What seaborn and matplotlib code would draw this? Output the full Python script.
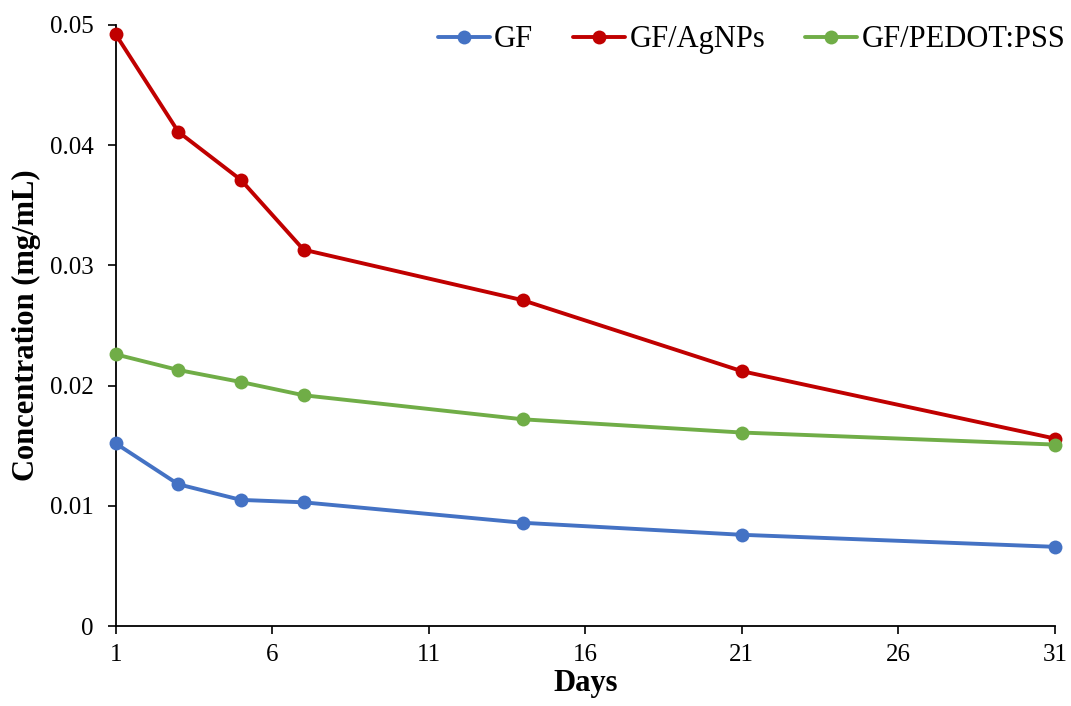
import pandas as pd
import matplotlib
matplotlib.use("Agg")
import matplotlib.pyplot as plt
import seaborn as sns

days = [1, 3, 5, 7, 14, 21, 31]
gf = [0.0152, 0.0118, 0.0105, 0.0103, 0.0086, 0.0076, 0.0066]
gf_agnps = [0.0492, 0.0411, 0.0371, 0.0313, 0.0271, 0.0212, 0.0156]
gf_pedot = [0.0226, 0.0213, 0.0203, 0.0192, 0.0172, 0.0161, 0.0151]
series_names = ["GF", "GF/AgNPs", "GF/PEDOT:PSS"]
x_ticks = [1, 6, 11, 16, 21, 26, 31]
y_ticks = [0, 0.01, 0.02, 0.03, 0.04, 0.05]
y_tick_labels = ["0", "0.01", "0.02", "0.03", "0.04", "0.05"]

df = pd.DataFrame({
    "Days": days * 3,
    "Concentration": gf + gf_agnps + gf_pedot,
    "Sample": [n for n in series_names for _ in days],
})

sns.set_theme(style="white")
plt.rcParams["font.family"] = ["Liberation Serif", "DejaVu Serif"]
plt.rcParams["text.color"] = "black"
plt.rcParams["axes.labelcolor"] = "black"

colors = {"GF": "#4472C4", "GF/AgNPs": "#C00000", "GF/PEDOT:PSS": "#70AD47"}

fig = plt.figure(figsize=(10.71, 7.06), dpi=100)
ax = fig.add_axes([0.108, 0.113, 0.877, 0.852])

for name in series_names:
    sub = df[df["Sample"] == name]
    sns.lineplot(data=sub, x="Days", y="Concentration", ax=ax, color=colors[name],
                 marker="o", markersize=10, markeredgewidth=0, linewidth=2.8,
                 label=name, clip_on=False, zorder=3)

ax.set_xlim(1, 31)
ax.set_ylim(0, 0.05)
ax.set_xticks(x_ticks)
ax.set_xticklabels([str(t) for t in x_ticks])
ax.set_yticks(y_ticks)
ax.set_yticklabels(y_tick_labels)
ax.tick_params(axis="both", which="major", labelsize=18, direction="out",
               length=6, width=1.2, color="black", labelcolor="black",
               bottom=True, left=True)
ax.tick_params(axis="x", pad=7)
ax.tick_params(axis="y", pad=10)

for side in ["top", "right"]:
    ax.spines[side].set_visible(False)
for side in ["left", "bottom"]:
    ax.spines[side].set_color("black")
    ax.spines[side].set_linewidth(1.3)

ax.set_xlabel("Days", fontsize=22, fontweight="bold", labelpad=2)
ax.set_ylabel("Concentration (mg/mL)", fontsize=22, fontweight="bold", labelpad=6)

ax.legend(loc="center right", bbox_to_anchor=(1.011, 0.975), ncol=3, frameon=False,
          fontsize=22, handlelength=1.7, handletextpad=0.15, columnspacing=1.3,
          borderpad=0, borderaxespad=0)

fig.savefig("out.png", dpi=100)
